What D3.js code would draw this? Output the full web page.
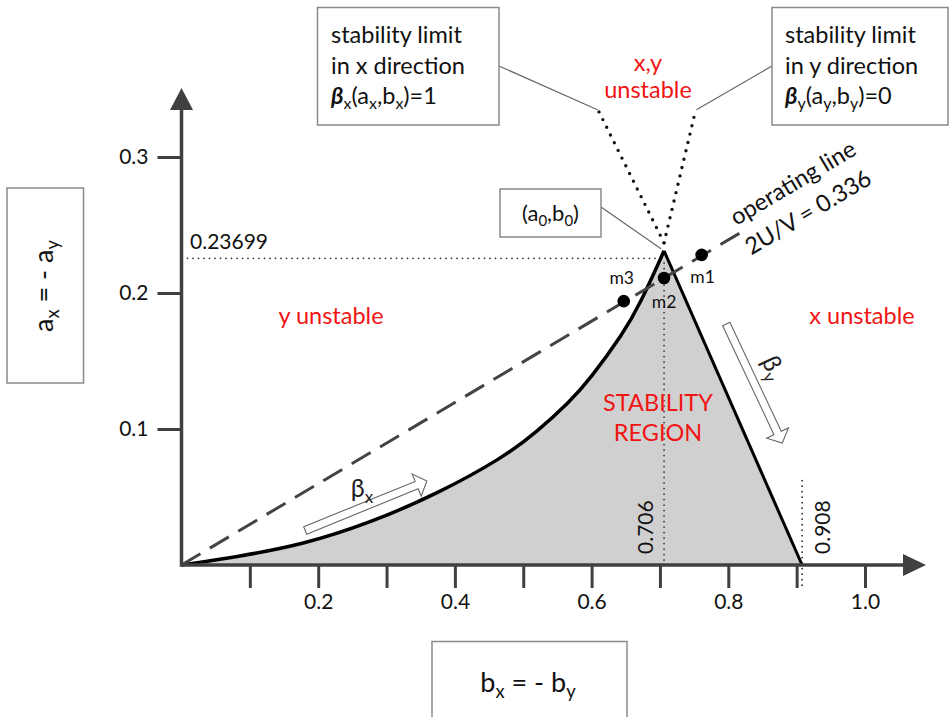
<!DOCTYPE html>
<html>
<head>
<meta charset="utf-8">
<script src="https://cdn.jsdelivr.net/npm/d3@7"></script>
<style>
body { margin: 0; background: #fff; }
svg text { font-family: Lato, "Open Sans", sans-serif; }
</style>
</head>
<body>
<div id="chart"></div>
<script>
// ---- values ----
var xTickVals = [0.1, 0.2, 0.3, 0.4, 0.5, 0.6, 0.7, 0.8, 0.9, 1.0];
var xTickLabels = ['', '0.2', '', '0.4', '', '0.6', '', '0.8', '', '1.0'];
var yTickVals = [0.1, 0.2, 0.3];
var yTickLabels = ['0.1', '0.2', '0.3'];

// beta_x = 1 boundary (left side of stability region)
var boundaryB = [0, 0.081, 0.178, 0.276, 0.373, 0.471, 0.520, 0.568, 0.598, 0.646, 0.671, 0.706];
var boundaryA = [0, 0.006, 0.015, 0.031, 0.052, 0.079, 0.098, 0.120, 0.137, 0.170, 0.192, 0.231];
// beta_y = 0 boundary (right side)
var rightB = [0.706, 0.908];
var rightA = [0.231, 0];
// dotted continuations above the apex
var limitXB = [0.706, 0.610];
var limitXA = [0.231, 0.334];
var limitYB = [0.706, 0.752];
var limitYA = [0.231, 0.334];
// operating line 2U/V = 0.336
var opLineB = [0, 0.83];
var opLineA = [0, 0.248];
var opNames = ['m1', 'm2', 'm3'];
var opB = [0.761, 0.706, 0.647];
var opA = [0.228, 0.211, 0.194];
// reference marks
var apexRefA = 0.2255;
var apexRefLabel = '0.23699';
var markB = [0.706, 0.908];
var markLabels = ['0.706', '0.908'];
// hollow beta arrows [tailB, tailA, tipB, tipA]
var betaXArrow = [0.181, 0.0254, 0.359, 0.0618];
var betaYArrow = [0.797, 0.1772, 0.879, 0.0897];

var W = 949, H = 717;
var svg = d3.select('#chart').append('svg')
  .attr('width', W).attr('height', H);

var x = d3.scaleLinear().domain([0, 1]).range([181.5, 865]);
var y = d3.scaleLinear().domain([0, 0.3]).range([565, 157]);

var axisColor = '#404040';

// stability region fill
var region = boundaryB.map(function(b, i) { return [b, boundaryA[i]]; });
var curveGen = d3.line()
  .x(function(d) { return x(d[0]); })
  .y(function(d) { return y(d[1]); })
  .curve(d3.curveBasis);
var curveD = curveGen(region);
svg.append('path')
  .attr('d', curveD + 'L' + x(rightB[1]) + ',' + y(rightA[1]) + 'L' + x(0) + ',' + y(0) + 'Z')
  .attr('fill', '#d0d0d0');

// dotted reference lines
function dotted(x1, y1, x2, y2) {
  svg.append('line')
    .attr('x1', x1).attr('y1', y1).attr('x2', x2).attr('y2', y2)
    .attr('stroke', '#333').attr('stroke-width', 1.8)
    .attr('stroke-dasharray', '0 5.5').attr('stroke-linecap', 'round');
}
dotted(x(0) + 6, y(apexRefA), x(0.700), y(apexRefA));
dotted(x(markB[0]), y(0.222), x(markB[0]), y(0));
dotted(x(markB[1]), y(0.062), x(markB[1]), y(0) + 24);

// dotted limit lines above the apex
[[limitXB, limitXA], [limitYB, limitYA]].forEach(function(l) {
  svg.append('line')
    .attr('x1', x(l[0][0])).attr('y1', y(l[1][0]) - 8)
    .attr('x2', x(l[0][1])).attr('y2', y(l[1][1]))
    .attr('stroke', '#111').attr('stroke-width', 3.4)
    .attr('stroke-dasharray', '0 8.6').attr('stroke-linecap', 'round');
});

// boundaries
svg.append('path').attr('d', curveD)
  .attr('fill', 'none').attr('stroke', '#000').attr('stroke-width', 3.5);
svg.append('line')
  .attr('x1', x(rightB[0])).attr('y1', y(rightA[0]))
  .attr('x2', x(rightB[1])).attr('y2', y(rightA[1]))
  .attr('stroke', '#000').attr('stroke-width', 3);

// operating line
svg.append('line')
  .attr('x1', x(opLineB[0])).attr('y1', y(opLineA[0]))
  .attr('x2', x(opLineB[1])).attr('y2', y(opLineA[1]))
  .attr('stroke', '#444').attr('stroke-width', 3)
  .attr('stroke-dasharray', '22 11');

svg.selectAll('.opdot').data(opB).enter().append('circle')
  .attr('class', 'opdot')
  .attr('cx', function(d) { return x(d); })
  .attr('cy', function(d, i) { return y(opA[i]); })
  .attr('r', 6.3).attr('fill', '#000');

svg.selectAll('.oplabel').data(opNames).enter().append('text')
  .attr('class', 'oplabel')
  .attr('x', function(d, i) { return x(opB[i]) + [1, 0, -2][i]; })
  .attr('y', function(d, i) { return y(opA[i]) + [28, 30, -17][i]; })
  .attr('text-anchor', 'middle')
  .attr('font-size', 17.5).attr('fill', '#111')
  .text(function(d) { return d; });

// axes
var xAxis = d3.axisBottom(x).tickValues(xTickVals)
  .tickFormat(function(d, i) { return xTickLabels[i]; })
  .tickSize(23).tickPadding(6);
var gx = svg.append('g').attr('transform', 'translate(0,' + y(0) + ')').call(xAxis);
gx.select('.domain').remove();
gx.selectAll('.tick line').attr('stroke', axisColor).attr('stroke-width', 3);
gx.selectAll('.tick text').attr('font-size', 21).attr('fill', '#111')
  .style('font-family', 'Lato, sans-serif');

var yAxis = d3.axisLeft(y).tickValues(yTickVals)
  .tickFormat(function(d, i) { return yTickLabels[i]; })
  .tickSize(24).tickPadding(9);
var gy = svg.append('g').attr('transform', 'translate(' + x(0) + ',0)').call(yAxis);
gy.select('.domain').remove();
gy.selectAll('.tick line').attr('stroke', axisColor).attr('stroke-width', 3);
gy.selectAll('.tick text').attr('font-size', 21).attr('fill', '#111')
  .style('font-family', 'Lato, sans-serif');

// axis lines with arrows
svg.append('line')
  .attr('x1', x(0)).attr('y1', y(0)).attr('x2', 906).attr('y2', y(0))
  .attr('stroke', axisColor).attr('stroke-width', 3.5);
svg.append('path')
  .attr('d', 'M926,' + y(0) + 'L903,' + (y(0) - 11) + 'L903,' + (y(0) + 11) + 'Z')
  .attr('fill', axisColor);
svg.append('line')
  .attr('x1', x(0)).attr('y1', y(0) + 1.7).attr('x2', x(0)).attr('y2', 108)
  .attr('stroke', axisColor).attr('stroke-width', 3.5);
svg.append('path')
  .attr('d', 'M' + x(0) + ',88L' + (x(0) - 11.5) + ',110L' + (x(0) + 11.5) + ',110Z')
  .attr('fill', axisColor);

// rich text helper (subscripts, bold italic beta)
function rich(g, tx, ty, size, parts, anchor, color) {
  var t = g.append('text').attr('x', tx).attr('y', ty)
    .attr('font-size', size).attr('text-anchor', anchor || 'start')
    .attr('fill', color || '#111');
  var shift = 0;
  parts.forEach(function(p) {
    var s = t.append('tspan').text(p[0]);
    var target = p[1] === 'sub' ? size * 0.22 : 0;
    if (target !== shift) s.attr('dy', target - shift);
    shift = target;
    if (p[1] === 'sub') s.attr('font-size', size * 0.68);
    if (p[1] === 'beta') s.attr('font-weight', 'bold').attr('font-style', 'italic');
  });
  return t;
}

function box(x0, y0, w, h) {
  svg.append('rect').attr('x', x0).attr('y', y0).attr('width', w).attr('height', h)
    .attr('fill', '#fff').attr('stroke', '#8a8a8a').attr('stroke-width', 1.5);
}

// leader lines
svg.append('line').attr('x1', 499).attr('y1', 66)
  .attr('x2', x(limitXB[1]) - 1).attr('y2', y(limitXA[1]) - 1)
  .attr('stroke', '#666').attr('stroke-width', 1.2);
svg.append('line').attr('x1', 772).attr('y1', 66)
  .attr('x2', x(limitYB[1]) + 1).attr('y2', y(limitYA[1]) - 1)
  .attr('stroke', '#666').attr('stroke-width', 1.2);
svg.append('line').attr('x1', 601).attr('y1', 207)
  .attr('x2', x(limitXB[0]) - 3).attr('y2', y(limitXA[0]) - 2)
  .attr('stroke', '#666').attr('stroke-width', 1.2);

// annotation boxes
box(317.5, 7.5, 181.5, 117.5);
rich(svg, 331, 43, 23.5, [['stability limit', 'n']]);
rich(svg, 331, 74, 23.5, [['in x direction', 'n']]);
rich(svg, 331, 104, 23.5, [['β', 'beta'], ['x', 'sub'], ['(a', 'n'], ['x', 'sub'], [',b', 'n'], ['x', 'sub'], [')=1', 'n']]);

box(772, 7.5, 176, 117.5);
rich(svg, 785, 43, 23.5, [['stability limit', 'n']]);
rich(svg, 785, 74, 23.5, [['in y direction', 'n']]);
rich(svg, 785, 104, 23.5, [['β', 'beta'], ['y', 'sub'], ['(a', 'n'], ['y', 'sub'], [',b', 'n'], ['y', 'sub'], [')=0', 'n']]);

box(500, 189, 101, 48);
rich(svg, 550.5, 221, 22, [['(a', 'n'], ['0', 'sub'], [',b', 'n'], ['0', 'sub'], [')', 'n']], 'middle');

box(7, 188, 76.5, 195);
var gyl = svg.append('g').attr('transform', 'translate(53,286) rotate(-90)');
rich(gyl, 0, 0, 27, [['a', 'n'], ['x', 'sub'], [' = - a', 'n'], ['y', 'sub']], 'middle');

box(432, 641.5, 195, 90);
rich(svg, 528, 692, 27, [['b', 'n'], ['x', 'sub'], [' = - b', 'n'], ['y', 'sub']], 'middle');

// red region labels
var red = '#f01414';
rich(svg, 648, 71, 23.5, [['x,y', 'n']], 'middle', red);
rich(svg, 648, 98, 23.5, [['unstable', 'n']], 'middle', red);
rich(svg, 331, 324, 23.5, [['y unstable', 'n']], 'middle', red);
rich(svg, 862, 324, 23.5, [['x unstable', 'n']], 'middle', red);
rich(svg, 658, 411, 23.5, [['STABILITY', 'n']], 'middle', red);
rich(svg, 658, 441, 23.5, [['REGION', 'n']], 'middle', red);

// reference value labels
rich(svg, 190, 249, 21, [[apexRefLabel, 'n']]);
markB.forEach(function(b, i) {
  var g = svg.append('g')
    .attr('transform', 'translate(' + (x(b) - [11, -28][i]) + ',554) rotate(-90)');
  rich(g, 0, 0, 21, [[markLabels[i], 'n']]);
});

// operating line label
var ang = Math.atan2(y(opLineA[1]) - y(0), x(opLineB[1]) - x(0)) * 180 / Math.PI;
var gop = svg.append('g').attr('transform', 'translate(793,183) rotate(' + ang + ')');
rich(gop, 0, 8, 23.5, [['operating line', 'n']], 'middle');
rich(gop, -2, 41, 23.5, [['2U/V = 0.336', 'n']], 'middle');

// hollow beta arrows
function hollowArrow(a, half, headHalf, headLen) {
  var x0 = x(a[0]), y0 = y(a[1]), x1 = x(a[2]), y1 = y(a[3]);
  var L = Math.hypot(x1 - x0, y1 - y0);
  var ang = Math.atan2(y1 - y0, x1 - x0) * 180 / Math.PI;
  var pts = [[0, -half], [L - headLen, -half], [L - headLen, -headHalf], [L, 0],
             [L - headLen, headHalf], [L - headLen, half], [0, half]];
  svg.append('path')
    .attr('transform', 'translate(' + x0 + ',' + y0 + ') rotate(' + ang + ')')
    .attr('d', 'M' + pts.join('L') + 'Z')
    .attr('fill', '#fff').attr('stroke', '#666').attr('stroke-width', 1.1);
  return ang;
}
hollowArrow(betaXArrow, 4, 12, 11);
var angY = hollowArrow(betaYArrow, 4, 12, 11);
rich(svg, 362, 497, 25, [['β', 'n'], ['x', 'sub']], 'middle', '#222');
var gby = svg.append('g').attr('transform', 'translate(766,371) rotate(' + angY + ')');
rich(gby, 0, 0, 25, [['β', 'n'], ['y', 'sub']], 'middle', '#222');
</script>
</body>
</html>
